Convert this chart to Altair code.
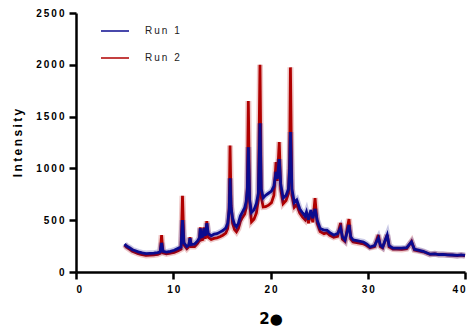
import altair as alt
import pandas as pd

# Run 1 (blue) readings: 2-theta and intensity
run1_x = [5.0, 5.2, 5.5, 5.8, 6.1, 6.4, 6.8, 7.2, 7.6, 8.0, 8.4, 8.65, 8.8, 8.95, 9.3, 9.7,
          10.1, 10.5, 10.8, 10.95, 11.1, 11.4, 11.6, 11.72, 11.85, 12.2, 12.5, 12.7, 12.78, 12.9,
          13.05, 13.15, 13.3, 13.45, 13.6, 13.9, 14.2, 14.5, 14.8, 15.1, 15.4, 15.6, 15.75, 15.84,
          15.95, 16.1, 16.3, 16.5, 16.7, 16.9, 17.1, 17.35, 17.5, 17.62, 17.72, 17.85, 18.05, 18.3,
          18.55, 18.75, 18.92, 19.05, 19.25, 19.5, 19.8, 20.1, 20.35, 20.57, 20.7, 20.9, 21.05,
          21.3, 21.6, 21.85, 21.97, 22.05, 22.2, 22.45, 22.7, 23.0, 23.3, 23.55, 23.7, 23.9, 24.15,
          24.35, 24.58, 24.8, 25.1, 25.5, 25.8, 26.1, 26.5, 26.9, 27.2, 27.4, 27.66, 28.07, 28.25,
          28.5, 29.0, 29.55, 29.9, 30.23, 30.7, 31.09, 31.3, 31.53, 32.0, 32.2, 32.6, 33.0, 33.5,
          34.0, 34.5, 34.8, 35.2, 35.7, 36.4, 36.9, 37.3, 37.7, 38.2, 38.7, 39.2, 39.6, 40.0]
run1_y = [270, 250, 235, 215, 205, 195, 185, 178, 180, 182, 188, 195, 280, 200, 192, 200,
          210, 228, 240, 500, 280, 245, 260, 325, 265, 270, 300, 330, 420, 340,
          345, 420, 350, 470, 370, 350, 365, 370, 385, 400, 425, 470, 600, 905,
          620, 520, 460, 435, 470, 540, 575, 620, 680, 800, 1205, 700, 575, 600,
          660, 760, 1435, 800, 715, 740, 760, 780, 830, 965, 900, 1090, 850,
          715, 740, 800, 1000, 1350, 800, 670, 695, 610, 570, 540, 580, 505, 598,
          520, 608, 500, 420, 405, 405, 380, 357, 370, 425, 340, 309, 453, 340,
          309, 300, 290, 270, 241, 255, 328, 260, 241, 357, 255, 231, 230, 231,
          235, 290, 220, 212, 200, 172, 175, 168, 170, 165, 164, 160, 165, 160]

# Run 2 (red) readings
run2_x = run1_x
run2_y = [260, 240, 220, 200, 188, 178, 168, 160, 162, 165, 170, 180, 355, 185, 175, 182,
          190, 205, 220, 735, 260, 225, 245, 335, 245, 245, 275, 305, 430, 310,
          315, 430, 320, 490, 335, 315, 325, 330, 340, 355, 375, 420, 620, 1220,
          640, 470, 410, 388, 420, 490, 525, 560, 620, 820, 1650, 680, 485, 510,
          570, 700, 2000, 720, 627, 630, 645, 670, 740, 1060, 880, 1255, 800,
          660, 690, 760, 1100, 1975, 740, 625, 650, 570, 530, 505, 560, 470, 575,
          480, 714, 470, 390, 370, 380, 355, 335, 345, 473, 315, 295, 511, 320,
          290, 280, 272, 255, 235, 245, 357, 245, 232, 357, 242, 222, 220, 218,
          225, 295, 212, 205, 195, 170, 175, 168, 170, 166, 162, 158, 163, 156]

series_names = ["Run 1", "Run 2"]
series_colors = ["#0b0b8f", "#b00000"]
x_ticks = [0, 10, 20, 30, 40]
y_ticks = [0, 500, 1000, 1500, 2000, 2500]

df1 = pd.DataFrame({"x": run1_x, "y": run1_y, "run": series_names[0]})
df2 = pd.DataFrame({"x": run2_x, "y": run2_y, "run": series_names[1]})
df_all = pd.concat([df1, df2], ignore_index=True)

spaced = "join(split(datum.label, ''), '\u2009')"

xenc = alt.X("x:Q", scale=alt.Scale(domain=[0, 40], nice=False),
             axis=alt.Axis(values=x_ticks, format="d", title="2●", labelExpr=spaced,
                           titleFontSize=15, titlePadding=17, titleFont="DejaVu Sans"))
yenc = alt.Y("y:Q", scale=alt.Scale(domain=[0, 2500], nice=False),
             axis=alt.Axis(values=y_ticks, format="d",
                           title="I\u2009n\u2009t\u2009e\u2009n\u2009s\u2009i\u2009t\u2009y",
                           labelExpr=spaced, titleFontSize=12, titlePadding=11))
color = alt.Color("run:N", scale=alt.Scale(domain=series_names, range=series_colors),
                  legend=alt.Legend(title=None, orient="none", legendX=24, legendY=3,
                                    symbolType="stroke", symbolSize=784, symbolStrokeWidth=1.5,
                                    symbolOpacity=1,
                                    labelOffset=15, rowPadding=7, padding=0,
                                    labelFontSize=10, labelFont="Liberation Sans",
                                    labelColor="#222222", labelExpr=spaced))

def line(df, width, opacity):
    return alt.Chart(df).mark_line(strokeWidth=width, opacity=opacity).encode(
        x=xenc, y=yenc, color=color)

chart = alt.layer(
    line(df_all, 1.5, 0.0),
    line(df2, 6, 0.22), line(df2, 2.8, 1.0),
    line(df1, 6, 0.22), line(df1, 2.8, 1.0),
).properties(
    width=389, height=259,
    padding={"left": 76, "top": 13, "right": 6, "bottom": 61},
    autosize=alt.AutoSizeParams(type="none"),
).configure_view(stroke=None).configure_axis(
    grid=False, domainColor="black", domainWidth=2.5, tickColor="black", tickWidth=2.5,
    tickSize=7, labelFont="Liberation Sans", labelFontWeight="bold", labelFontSize=10,
    labelColor="black", labelPadding=5, titleFont="Liberation Sans", titleFontWeight="bold",
    titleColor="black",
)

chart.save("out.html", embed_options={"renderer": "svg", "actions": False})
